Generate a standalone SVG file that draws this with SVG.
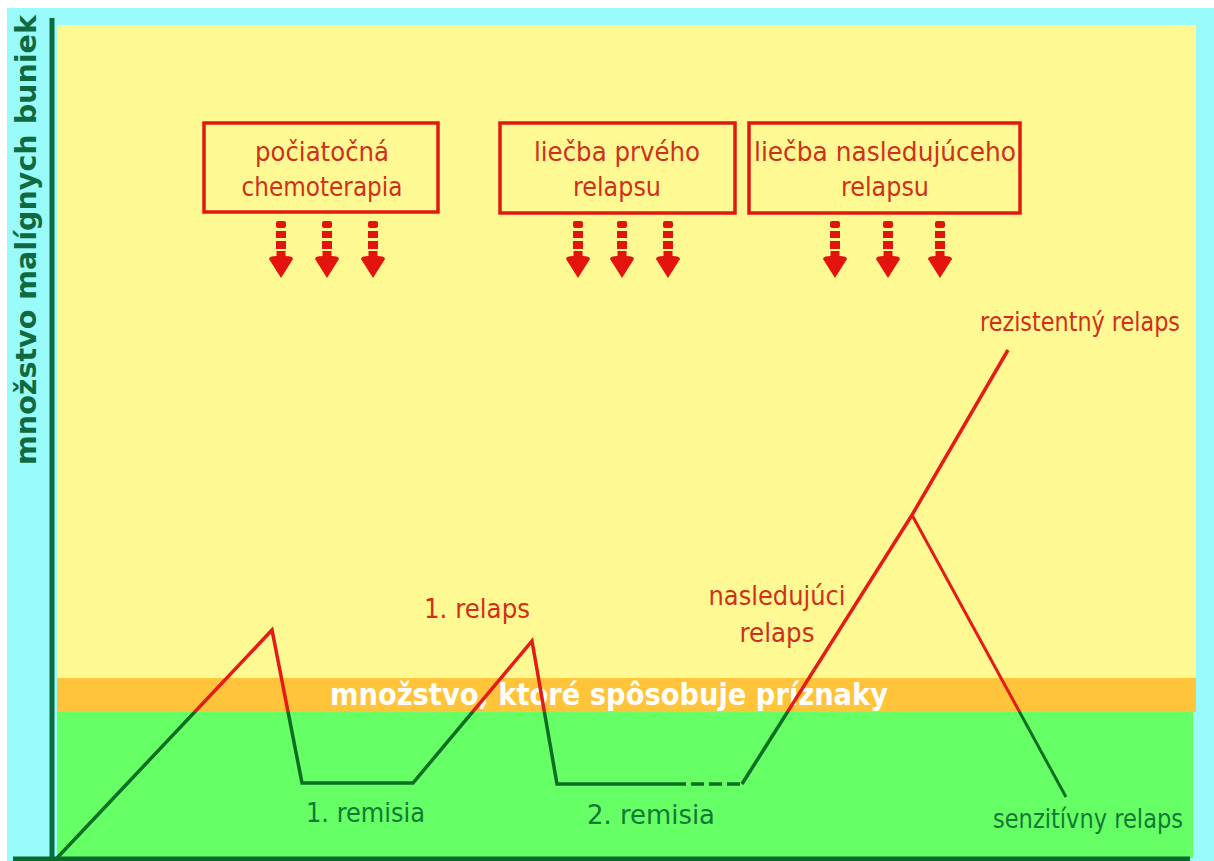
<svg xmlns="http://www.w3.org/2000/svg" xmlns:xlink="http://www.w3.org/1999/xlink" width="1214" height="861" viewBox="0 0 1214 861">
<style>
.box{fill:none;stroke:#E01A12;stroke-width:3.5}
.bt{font-family:"DejaVu Sans","Noto Sans",sans-serif;font-size:26px;fill:#D0301A;text-anchor:middle}
.rt{font-family:"DejaVu Sans","Noto Sans",sans-serif;font-size:26px;fill:#D0301A}
.gt{font-family:"DejaVu Sans","Noto Sans",sans-serif;font-size:26px;fill:#127A35}
.arr{fill:#E3140E}
.curve{fill:none;stroke-width:3.5;stroke-linejoin:miter}
.branch{fill:none;stroke-width:3}
</style>
<defs>
<g id="darrow" class="arr">
<rect x="-5" y="221" width="10" height="7" rx="2"/>
<rect x="-5" y="231" width="10" height="7"/>
<rect x="-5" y="241" width="10" height="8"/>
<path d="M-4.5,251 H4.5 V256 Q12,256 12,259 L0,278 L-12,259 Q-12,256 -4.5,256 Z"/>
</g>
<clipPath id="above"><rect x="0" y="0" width="1214" height="712"/></clipPath>
<clipPath id="below"><rect x="0" y="712" width="1214" height="149"/></clipPath>
</defs>

<g id="background">
<rect x="0" y="0" width="1214" height="861" fill="#FFFFFF"/>
<rect x="7" y="8" width="1207" height="853" fill="#9AFBFB"/>
<rect x="57" y="25" width="1139" height="653" fill="#FFF994"/>
<rect x="57" y="678" width="1139" height="34" fill="#FFC43A"/>
<rect x="57" y="712" width="1136" height="146" fill="#66FF66"/>
</g>

<g id="axes">
<line x1="52" y1="18" x2="52" y2="861" stroke="#0A6A40" stroke-width="5"/>
<line x1="13" y1="859" x2="1190" y2="859" stroke="#0A6A30" stroke-width="5"/>
<text x="0" y="0" transform="translate(36,240) rotate(-90)" font-family="'DejaVu Sans','Noto Sans',sans-serif" font-size="29" font-weight="bold" fill="#106A40" text-anchor="middle" textLength="450" lengthAdjust="spacingAndGlyphs">množstvo malígnych buniek</text>
</g>

<g id="band-label">
<text x="609" y="705" font-family="'DejaVu Sans','Noto Sans',sans-serif" font-size="30" font-weight="bold" fill="#FFFFFF" text-anchor="middle" textLength="558" lengthAdjust="spacingAndGlyphs">množstvo, ktoré spôsobuje príznaky</text>
</g>

<g id="node-initial">
<rect class="box" x="204" y="123" width="234" height="89"/>
<text class="bt" x="322" y="161" textLength="134" lengthAdjust="spacingAndGlyphs">počiatočná</text>
<text class="bt" x="322" y="196" textLength="161" lengthAdjust="spacingAndGlyphs">chemoterapia</text>
<use xlink:href="#darrow" x="281"/>
<use xlink:href="#darrow" x="327"/>
<use xlink:href="#darrow" x="373"/>
</g>

<g id="node-first-relapse">
<rect class="box" x="500" y="123" width="235" height="90"/>
<text class="bt" x="617" y="161" textLength="166" lengthAdjust="spacingAndGlyphs">liečba prvého</text>
<text class="bt" x="617" y="196" textLength="88" lengthAdjust="spacingAndGlyphs">relapsu</text>
<use xlink:href="#darrow" x="578"/>
<use xlink:href="#darrow" x="622"/>
<use xlink:href="#darrow" x="668"/>
</g>

<g id="node-next-relapse">
<rect class="box" x="749" y="123" width="271" height="90" stroke-width="4.5"/>
<text class="bt" x="885" y="161" textLength="262" lengthAdjust="spacingAndGlyphs">liečba nasledujúceho</text>
<text class="bt" x="885" y="196" textLength="88" lengthAdjust="spacingAndGlyphs">relapsu</text>
<use xlink:href="#darrow" x="835"/>
<use xlink:href="#darrow" x="888"/>
<use xlink:href="#darrow" x="940"/>
</g>

<g id="connectors">
<g clip-path="url(#below)" stroke="#0B6E22">
<path class="curve" d="M57,858 L272,630 L302,783 L413,783 L532,641 L557,784 L673,784"/>
<path class="curve" d="M673,784 L742,784" stroke-dasharray="13,5"/>
<path class="curve" d="M742,784 L912,515 L1008,350"/>
<path class="branch" d="M912,515 L1066,797"/>
</g>
<g clip-path="url(#above)" stroke="#E41B17">
<path class="curve" d="M57,858 L272,630 L302,783 L413,783 L532,641 L557,784 L673,784"/>
<path class="curve" d="M742,784 L912,515 L1008,350"/>
<path class="branch" d="M912,515 L1066,797"/>
</g>
</g>

<g id="labels">
<text class="rt" x="424" y="618" textLength="106" lengthAdjust="spacingAndGlyphs">1. relaps</text>
<text class="bt" x="777" y="605" textLength="137" lengthAdjust="spacingAndGlyphs">nasledujúci</text>
<text class="bt" x="777" y="642" textLength="75" lengthAdjust="spacingAndGlyphs">relaps</text>
<text class="bt" x="1080" y="331" textLength="200" lengthAdjust="spacingAndGlyphs">rezistentný relaps</text>
<text class="gt" x="306" y="822" textLength="119" lengthAdjust="spacingAndGlyphs">1. remisia</text>
<text class="gt" x="587" y="824" textLength="128" lengthAdjust="spacingAndGlyphs">2. remisia</text>
<text class="gt" x="993" y="828" textLength="190" lengthAdjust="spacingAndGlyphs">senzitívny relaps</text>
</g>
</svg>
